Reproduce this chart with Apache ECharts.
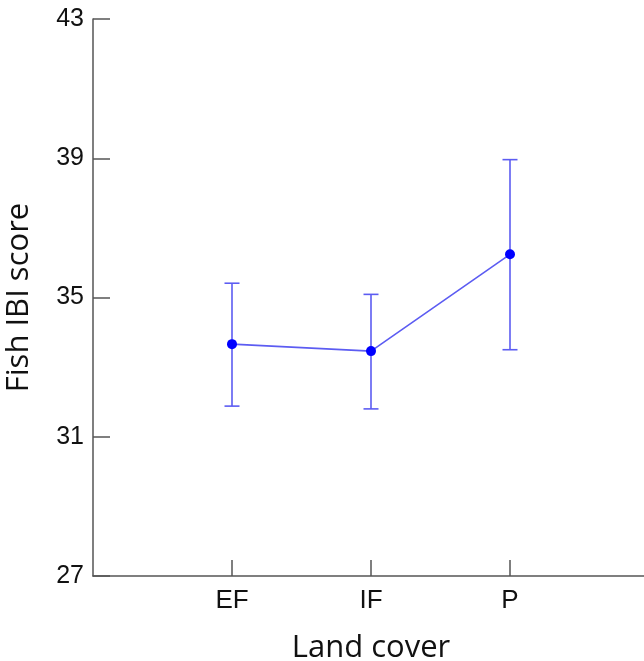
<!DOCTYPE html>
<html>
<head>
<meta charset="utf-8">
<script src="https://cdn.jsdelivr.net/npm/echarts@6/dist/echarts.min.js"></script>
<style>
  html, body { margin: 0; padding: 0; background: #fff; }
  #chart { width: 644px; height: 661px; }
</style>
</head>
<body>
<div id="chart"></div>
<script>
// Land cover classes and their fish IBI score summaries
const categories = ['EF', 'IF', 'P'];
const categoryPos = [1, 2, 3];
const meanScore = [33.66, 33.46, 36.24];
const lowerScore = [31.88, 31.80, 33.50];
const upperScore = [35.41, 35.09, 38.96];
const yTicks = [27, 31, 35, 39, 43];

const axisColor = '#555555';
const markColor = '#0000ff';
const lineColor = '#5c5cf2';

const meanData = categoryPos.map((x, i) => [x, meanScore[i]]);
const barData = categoryPos.map((x, i) => [x, lowerScore[i], upperScore[i]]);

const chart = echarts.init(document.getElementById('chart'), null, { renderer: 'canvas' });

chart.setOption({
  animation: false,
  backgroundColor: '#ffffff',
  grid: { left: 93, top: 19, bottom: 85, right: -5, containLabel: false, outerBoundsMode: 'none' },
  xAxis: {
    type: 'value',
    min: 0,
    max: 4,
    name: 'Land cover',
    nameLocation: 'middle',
    nameGap: 57,
    nameTextStyle: { fontFamily: 'Open Sans', fontSize: 31, color: '#111' },
    splitLine: { show: false },
    axisLine: { show: true, lineStyle: { color: axisColor, width: 1.5 } },
    axisTick: { show: true, inside: true, length: 16, customValues: categoryPos,
      lineStyle: { color: axisColor, width: 1.5 } },
    axisLabel: {
      customValues: categoryPos,
      formatter: v => categories[categoryPos.indexOf(Math.round(v))] || '',
      margin: 12,
      fontFamily: 'Liberation Sans', fontSize: 26, color: '#111'
    }
  },
  yAxis: {
    type: 'value',
    min: 27,
    max: 43,
    name: 'Fish IBI score',
    nameLocation: 'middle',
    nameGap: 58,
    nameRotate: 90,
    nameTextStyle: { fontFamily: 'Open Sans', fontSize: 31, color: '#111' },
    splitLine: { show: false },
    axisLine: { show: true, lineStyle: { color: axisColor, width: 1.5 } },
    axisTick: { show: true, inside: true, length: 17, customValues: yTicks,
      lineStyle: { color: axisColor, width: 1.5 } },
    axisLabel: {
      customValues: yTicks,
      margin: 9,
      fontFamily: 'Liberation Sans', fontSize: 25, color: '#111'
    }
  },
  series: [
    {
      type: 'custom',
      data: barData,
      z: 2,
      renderItem: function (params, api) {
        const x = api.value(0);
        const lo = api.coord([x, api.value(1)]);
        const hi = api.coord([x, api.value(2)]);
        const half = 7.5;
        const style = { stroke: lineColor, lineWidth: 1.6 };
        return {
          type: 'group',
          children: [
            { type: 'line', shape: { x1: lo[0], y1: lo[1], x2: hi[0], y2: hi[1] }, style },
            { type: 'line', shape: { x1: hi[0] - half, y1: hi[1], x2: hi[0] + half, y2: hi[1] }, style },
            { type: 'line', shape: { x1: lo[0] - half, y1: lo[1], x2: lo[0] + half, y2: lo[1] }, style }
          ]
        };
      }
    },
    {
      type: 'line',
      data: meanData,
      z: 3,
      symbol: 'circle',
      symbolSize: 10,
      itemStyle: { color: markColor },
      lineStyle: { color: lineColor, width: 1.6 }
    }
  ]
});
</script>
</body>
</html>
